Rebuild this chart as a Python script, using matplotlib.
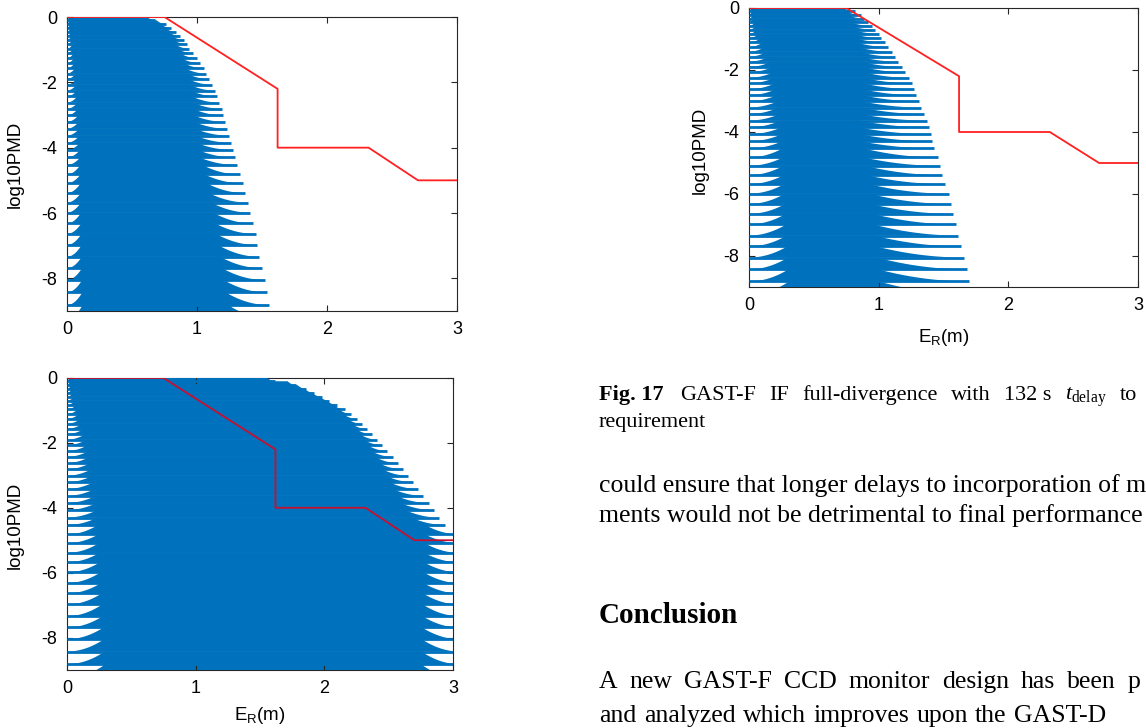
#!/usr/bin/python3

import numpy as np
import matplotlib
matplotlib.use('Agg')
import matplotlib.pyplot as plt

plt.rcParams['font.family'] = ['Liberation Sans', 'DejaVu Sans']
plt.rcParams['axes.unicode_minus'] = False
plt.rcParams['mathtext.fontset'] = 'custom'
plt.rcParams['mathtext.rm'] = 'Liberation Serif'
plt.rcParams['mathtext.it'] = 'Liberation Serif:italic'

W, H = 1146, 728
BLUE = '#0072BD'

# log10 PMD of each band of points (same grid in all three runs)
levels = [-0.10, -0.22, -0.34, -0.46, -0.58, -0.70, -0.83, -0.97, -1.11, -1.26,
          -1.41, -1.57, -1.73, -1.90, -2.07, -2.25, -2.43, -2.62, -2.81, -3.01,
          -3.21, -3.42, -3.63, -3.85, -4.07, -4.30, -4.53, -4.82, -5.09, -5.39,
          -5.68, -5.99, -6.32, -6.64, -6.98, -7.34, -7.69, -8.05, -8.43, -8.82, -9.25]

# E_R (m) where each band ends
reach_top = [0.68, 0.76, 0.80, 0.84, 0.87, 0.90, 0.92, 0.94, 0.97, 1.00,
             1.02, 1.05, 1.07, 1.095, 1.115, 1.135, 1.15, 1.17, 1.19, 1.20,
             1.215, 1.23, 1.245, 1.26, 1.275, 1.29, 1.305, 1.33, 1.35, 1.37,
             1.39, 1.41, 1.43, 1.45, 1.46, 1.48, 1.50, 1.52, 1.535, 1.555, 1.58]
reach_full = [1.62, 1.78, 1.86, 1.92, 1.98, 2.04, 2.10, 2.16, 2.21, 2.25,
              2.29, 2.33, 2.37, 2.41, 2.45, 2.49, 2.53, 2.57, 2.61, 2.65,
              2.69, 2.73, 2.77, 2.81, 2.85, 2.89, 2.94, 3.05, 3.05, 3.05,
              3.05, 3.05, 3.05, 3.05, 3.05, 3.05, 3.05, 3.05, 3.05, 3.05, 3.05]
reach_fig17 = [0.82, 0.86, 0.89, 0.92, 0.95, 0.97, 1.00, 1.02, 1.05, 1.075,
               1.10, 1.125, 1.15, 1.18, 1.205, 1.235, 1.255, 1.275, 1.29, 1.31,
               1.33, 1.35, 1.37, 1.385, 1.40, 1.415, 1.43, 1.46, 1.47, 1.49,
               1.51, 1.54, 1.555, 1.575, 1.60, 1.615, 1.635, 1.66, 1.68, 1.70, 1.72]

# GAST-F requirement
req_er = [0, 0.75, 1.62, 1.62, 2.32, 2.70, 3.0]
req_pmd = [0, 0, -2.2, -4.0, -4.0, -5.0, -5.0]

# width of the white notches at the left and right end of the bands
notch_lvl = [-9.3, -4.0, -2.0, -0.8, 0.0]
notch_top = ([0.12, 0.10, 0.07, 0.04, 0.01], [0.34, 0.28, 0.18, 0.10, 0.06])
notch_full = ([0.30, 0.23, 0.15, 0.06, 0.01], [0.30, 0.26, 0.14, 0.08, 0.06])
notch_fig17 = ([0.31, 0.25, 0.18, 0.06, 0.01], [0.72, 0.55, 0.32, 0.20, 0.08])


fig = plt.figure(figsize=(W / 100, H / 100), dpi=100)


def band(ax, y_bot, y_top, x_end, wl, wr, n=30):
	'''fills one band of points between two PMD levels, with its notches.'''
	wr = min(wr, x_end - wl)
	s = np.linspace(0, 1, n)
	dy = y_top - y_bot
	xs = np.concatenate([[0], x_end - wr * s, wl * s[::-1]])
	ys = np.concatenate([[y_bot], y_bot + dy * s ** 2, y_bot + dy * s[::-1] ** 2])
	ax.fill(xs, ys, color=BLUE, lw=0)


def make_panel(box, reach, notches, red):
	'''box: (left, top, right, bottom) in pixels of the page.'''
	l, t, r, b = box
	ax = fig.add_axes([l / W, 1 - b / H, (r - l) / W, (b - t) / H])
	top = 0.0
	for lvl, x_end in zip(levels, reach):
		band(ax, lvl, top, x_end, np.interp(lvl, notch_lvl, notches[0]),
		     np.interp(lvl, notch_lvl, notches[1]))
		top = lvl
	ax.hlines(levels, 0, reach, color=BLUE, lw=2.0)
	ax.plot(req_er, req_pmd, color=red, lw=1.3, zorder=4)
	ax.set_xlim(0, 3)
	ax.set_ylim(-9, 0)
	ax.set_xticks([0, 1, 2, 3])
	ax.set_yticks([0, -2, -4, -6, -8])
	ax.tick_params(direction='in', top=True, right=True, length=4, width=0.8,
	               labelsize=13, pad=7, color='#262626')
	for sp in ax.spines.values():
		sp.set_color('#262626')
		sp.set_linewidth(0.8)
		sp.set_zorder(0.5)
	return ax


make_panel((67, 17, 457, 311), reach_top, notch_top, '#FF2020')
make_panel((67, 378, 453, 670), reach_full, notch_full, '#C8102E')
make_panel((749, 8, 1138, 287), reach_fig17, notch_fig17, '#FF2020')

for x, y in [(15, 164), (15, 525), (700, 150)]:
	fig.text(x / W, 1 - y / H, 'log10PMD', rotation=90, ha='center', va='center', fontsize=13.5)
for x, y in [(260, 715), (944, 337)]:
	fig.text(x / W, 1 - y / H, r'$\mathregular{E_R}$(m)', ha='center', va='center', fontsize=13.5)


def spread(y, words, x_first, x_last, **kw):
	'''lays out words on one justified line: first one starts at x_first, last one at x_last.'''
	texts = [fig.text(0, 1 - y / H, w, va='baseline', **kw) for w in words]
	rend = fig.canvas.get_renderer()
	widths = [t.get_window_extent(rend).width for t in texts]
	gap = (x_last - x_first - sum(widths[:-1])) / (len(words) - 1)
	x = x_first
	for t, w in zip(texts, widths):
		t.set_x(x / W)
		x += w + gap


serif = dict(family='Liberation Serif', color='black')
fig.text(599 / W, 1 - 400 / H, 'Fig. 17', fontsize=16, weight='bold', va='baseline', **serif)
spread(400, ['GAST-F', 'IF', 'full-divergence', 'with', '132 s', r'$t_{\rm delay}$', 'to'],
       680, 1120, fontsize=16, **serif)
fig.text(599 / W, 1 - 427 / H, 'requirement', fontsize=16, va='baseline', **serif)
fig.text(599 / W, 1 - 492 / H, 'could ensure that longer delays to incorporation of m',
         fontsize=18.5, va='baseline', **serif)
fig.text(599 / W, 1 - 522 / H, 'ments would not be detrimental to final performance',
         fontsize=18.5, va='baseline', **serif)
fig.text(599 / W, 1 - 623 / H, 'Conclusion', fontsize=21, weight='bold', va='baseline', **serif)
spread(688, ['A', 'new', 'GAST-F', 'CCD', 'monitor', 'design', 'has', 'been', 'p'],
       599, 1128, fontsize=18.5, **serif)
spread(722, ['and', 'analyzed', 'which', 'improves', 'upon', 'the', 'GAST-D'],
       599, 1014, fontsize=18.5, **serif)

fig.savefig('out.png', dpi=100)
